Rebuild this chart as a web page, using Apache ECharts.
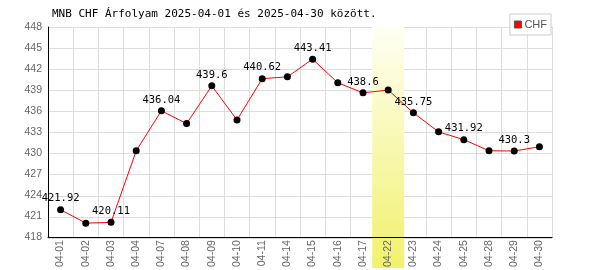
<!DOCTYPE html>
<html>
<head>
<meta charset="utf-8">
<script src="https://cdn.jsdelivr.net/npm/echarts@6/dist/echarts.min.js"></script>
<style>html,body{margin:0;padding:0;background:#fff}#c{width:600px;height:270px}</style>
</head>
<body>
<div id="c"></div>
<script>
const titleText = 'MNB CHF Árfolyam 2025-04-01 és 2025-04-30 között.';
const seriesName = 'CHF';
const categories = ['04-01','04-02','04-03','04-04','04-07','04-08','04-09','04-10','04-11','04-14','04-15','04-16','04-17','04-22','04-23','04-24','04-25','04-28','04-29','04-30'];
const rates = [421.92,420.0,420.11,430.33,436.04,434.21,439.6,434.73,440.62,440.89,443.41,440.04,438.6,439.0,435.75,433.03,431.92,430.33,430.3,430.9];
const highlightDay = '04-22';
const yMin = 418, yMax = 448, yStep = 3;

const chart = echarts.init(document.getElementById('c'), null, {renderer:'canvas'});
const mono = 'DejaVu Sans Mono';
const sans = 'Liberation Sans';
const bandData = categories.map(c => c === highlightDay ? 1 : 0);

chart.setOption({
  animation: false,
  backgroundColor: '#fff',
  title: {
    text: titleText, left: 52, top: 9, padding: 0,
    textStyle: {fontFamily: mono, fontSize: 11, fontWeight: 'normal', color: '#000'}
  },
  legend: {
    right: 49, top: 14, padding: [5, 4, 5, 4],
    backgroundColor: '#fff', borderColor: '#ccc', borderWidth: 1, borderRadius: 0,
    itemWidth: 7, itemHeight: 7, itemGap: 4,
    data: [{name: seriesName, icon: 'rect', itemStyle: {color: '#ff0000', borderColor: '#555', borderWidth: 1}}],
    textStyle: {fontFamily: sans, fontSize: 11, color: '#555', padding: [0,0,0,-2]}
  },
  grid: [
    {left: 48, right: 48, top: 27, bottom: 32},
    {left: 48, right: 48, top: 27, bottom: 32},
    {left: 48, right: 48, top: 25, bottom: 2}
  ],
  xAxis: [
    {type: 'category', gridIndex: 0, data: categories, boundaryGap: true, z: 10,
      axisLine: {lineStyle: {color: '#000', width: 1}}, axisTick: {show: false},
      splitLine: {show: false},
      axisLabel: {rotate: 90, interval: 0, margin: 3, fontFamily: sans, fontSize: 10.5, color: '#666'}},
    {type: 'category', gridIndex: 1, data: categories, boundaryGap: true, z: 0,
      axisLine: {show: false}, axisTick: {show: false}, axisLabel: {show: false},
      splitLine: {show: true, interval: 0, lineStyle: {color: '#ddd', width: 1}}},
    {type: 'category', gridIndex: 2, data: categories, boundaryGap: true, show: false}
  ],
  yAxis: [
    {type: 'value', gridIndex: 0, min: yMin, max: yMax, interval: yStep, z: 10,
      axisLine: {show: true, lineStyle: {color: '#000', width: 1}}, axisTick: {show: false},
      splitLine: {show: false},
      axisLabel: {margin: 6, fontFamily: sans, fontSize: 10.5, color: '#666'}},
    {type: 'value', gridIndex: 1, min: yMin, max: yMax, interval: yStep, z: 0,
      axisLine: {show: false}, axisTick: {show: false}, axisLabel: {show: false},
      splitLine: {show: true, lineStyle: {color: '#ddd', width: 1}}},
    {type: 'value', gridIndex: 2, min: 0, max: 1, show: false}
  ],
  series: [
    {type: 'bar', xAxisIndex: 2, yAxisIndex: 2, data: bandData, barWidth: 32, z: 1,
      silent: true, legendHoverLink: false,
      itemStyle: {color: new echarts.graphic.LinearGradient(0, 0, 0, 1, [
        {offset: 0, color: '#fffff6'}, {offset: 1, color: '#f1f16c'}])}},
    {type: 'line', name: seriesName, xAxisIndex: 0, yAxisIndex: 0, data: rates, z: 12,
      lineStyle: {color: '#ff0000', width: 1},
      symbol: 'circle', symbolSize: 7, showSymbol: true,
      itemStyle: {color: '#000'},
      label: {show: true, position: 'top', distance: 2, fontFamily: mono, fontSize: 10.5, color: '#000',
        formatter: p => (p.dataIndex % 2 === 0 ? String(p.value) : '')}}
  ]
});
</script>
</body>
</html>
